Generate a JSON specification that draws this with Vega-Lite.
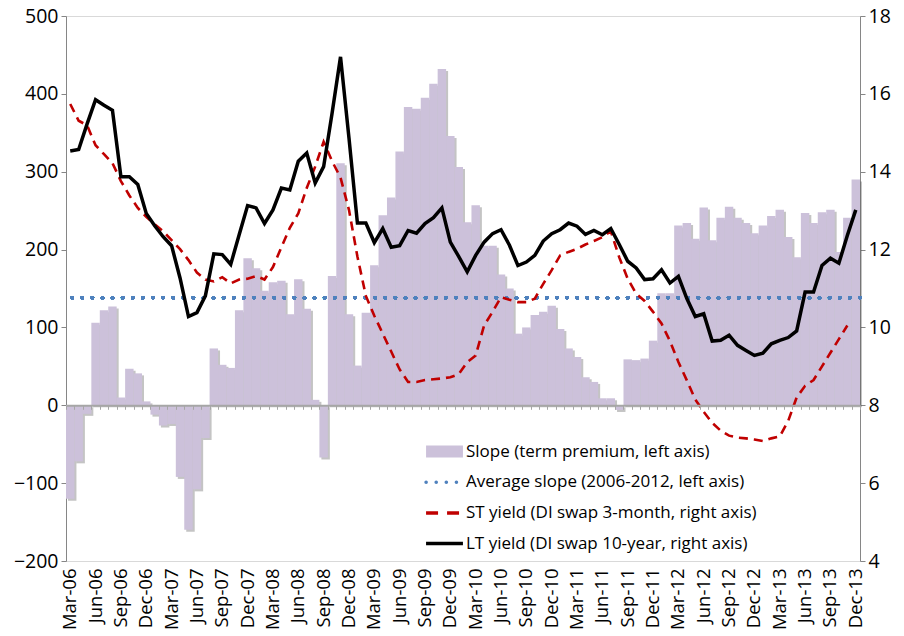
{
  "$schema": "https://vega.github.io/schema/vega-lite/v6.json",
  "width": 794,
  "height": 545,
  "autosize": {"type": "none"},
  "padding": {"left": 66, "top": 16, "right": 44, "bottom": 75},
  "background": "white",
  "data": {"values": [
    {"m":"Mar-06","slope":-120,"st":15.74,"lt":14.53},
    {"m":"Apr-06","slope":-72,"st":15.31,"lt":14.57},
    {"m":"May-06","slope":-11,"st":15.19,"lt":15.23},
    {"m":"Jun-06","slope":106,"st":14.68,"lt":15.85},
    {"m":"Jul-06","slope":122,"st":14.45,"lt":15.71},
    {"m":"Aug-06","slope":127,"st":14.22,"lt":15.58},
    {"m":"Sep-06","slope":10,"st":13.76,"lt":13.87},
    {"m":"Oct-06","slope":47,"st":13.39,"lt":13.87},
    {"m":"Nov-06","slope":41,"st":13.07,"lt":13.67},
    {"m":"Dec-06","slope":5,"st":12.84,"lt":12.93},
    {"m":"Jan-07","slope":-12,"st":12.65,"lt":12.61},
    {"m":"Feb-07","slope":-26,"st":12.47,"lt":12.33},
    {"m":"Mar-07","slope":-24,"st":12.24,"lt":12.10},
    {"m":"Apr-07","slope":-92,"st":12.01,"lt":11.27},
    {"m":"May-07","slope":-160,"st":11.73,"lt":10.28},
    {"m":"Jun-07","slope":-108,"st":11.41,"lt":10.38},
    {"m":"Jul-07","slope":-42,"st":11.23,"lt":10.81},
    {"m":"Aug-07","slope":73,"st":11.18,"lt":11.89},
    {"m":"Sep-07","slope":52,"st":11.29,"lt":11.87},
    {"m":"Oct-07","slope":48,"st":11.13,"lt":11.62},
    {"m":"Nov-07","slope":122,"st":11.23,"lt":12.38},
    {"m":"Dec-07","slope":189,"st":11.25,"lt":13.13},
    {"m":"Jan-08","slope":176,"st":11.32,"lt":13.07},
    {"m":"Feb-08","slope":147,"st":11.23,"lt":12.67},
    {"m":"Mar-08","slope":158,"st":11.55,"lt":13.02},
    {"m":"Apr-08","slope":160,"st":12.06,"lt":13.58},
    {"m":"May-08","slope":117,"st":12.56,"lt":13.53},
    {"m":"Jun-08","slope":162,"st":12.93,"lt":14.27},
    {"m":"Jul-08","slope":124,"st":13.58,"lt":14.48},
    {"m":"Aug-08","slope":7,"st":14.13,"lt":13.71},
    {"m":"Sep-08","slope":-67,"st":14.77,"lt":14.13},
    {"m":"Oct-08","slope":166,"st":14.27,"lt":15.5},
    {"m":"Nov-08","slope":311,"st":13.85,"lt":16.95},
    {"m":"Dec-08","slope":117,"st":13.02,"lt":14.87},
    {"m":"Jan-09","slope":51,"st":11.82,"lt":12.68},
    {"m":"Feb-09","slope":119,"st":10.81,"lt":12.68},
    {"m":"Mar-09","slope":180,"st":10.30,"lt":12.18},
    {"m":"Apr-09","slope":244,"st":9.84,"lt":12.54},
    {"m":"May-09","slope":267,"st":9.38,"lt":12.06},
    {"m":"Jun-09","slope":326,"st":8.92,"lt":12.10},
    {"m":"Jul-09","slope":383,"st":8.60,"lt":12.49},
    {"m":"Aug-09","slope":381,"st":8.60,"lt":12.42},
    {"m":"Sep-09","slope":395,"st":8.65,"lt":12.67},
    {"m":"Oct-09","slope":413,"st":8.67,"lt":12.82},
    {"m":"Nov-09","slope":432,"st":8.69,"lt":13.07},
    {"m":"Dec-09","slope":346,"st":8.72,"lt":12.19},
    {"m":"Jan-10","slope":306,"st":8.80,"lt":11.82},
    {"m":"Feb-10","slope":235,"st":9.11,"lt":11.43},
    {"m":"Mar-10","slope":257,"st":9.28,"lt":11.85},
    {"m":"Apr-10","slope":205,"st":10.05,"lt":12.19},
    {"m":"May-10","slope":205,"st":10.40,"lt":12.41},
    {"m":"Jun-10","slope":168,"st":10.78,"lt":12.51},
    {"m":"Jul-10","slope":150,"st":10.71,"lt":12.11},
    {"m":"Aug-10","slope":92,"st":10.65,"lt":11.59},
    {"m":"Sep-10","slope":100,"st":10.65,"lt":11.68},
    {"m":"Oct-10","slope":116,"st":10.74,"lt":11.85},
    {"m":"Nov-10","slope":120,"st":11.12,"lt":12.22},
    {"m":"Dec-10","slope":128,"st":11.47,"lt":12.41},
    {"m":"Jan-11","slope":98,"st":11.85,"lt":12.51},
    {"m":"Feb-11","slope":73,"st":11.94,"lt":12.68},
    {"m":"Mar-11","slope":62,"st":12.02,"lt":12.60},
    {"m":"Apr-11","slope":36,"st":12.13,"lt":12.39},
    {"m":"May-11","slope":30,"st":12.22,"lt":12.49},
    {"m":"Jun-11","slope":9,"st":12.32,"lt":12.38},
    {"m":"Jul-11","slope":9,"st":12.47,"lt":12.54},
    {"m":"Aug-11","slope":-6,"st":11.8,"lt":12.13},
    {"m":"Sep-11","slope":59,"st":11.25,"lt":11.70},
    {"m":"Oct-11","slope":58,"st":10.87,"lt":11.53},
    {"m":"Nov-11","slope":60,"st":10.68,"lt":11.23},
    {"m":"Dec-11","slope":83,"st":10.40,"lt":11.25},
    {"m":"Jan-12","slope":144,"st":10.10,"lt":11.48},
    {"m":"Feb-12","slope":144,"st":9.65,"lt":11.14},
    {"m":"Mar-12","slope":231,"st":9.11,"lt":11.31},
    {"m":"Apr-12","slope":234,"st":8.64,"lt":10.74},
    {"m":"May-12","slope":214,"st":8.15,"lt":10.28},
    {"m":"Jun-12","slope":254,"st":7.83,"lt":10.35},
    {"m":"Jul-12","slope":212,"st":7.55,"lt":9.65},
    {"m":"Aug-12","slope":241,"st":7.35,"lt":9.67},
    {"m":"Sep-12","slope":255,"st":7.22,"lt":9.80},
    {"m":"Oct-12","slope":241,"st":7.17,"lt":9.54},
    {"m":"Nov-12","slope":234,"st":7.15,"lt":9.41},
    {"m":"Dec-12","slope":221,"st":7.12,"lt":9.28},
    {"m":"Jan-13","slope":231,"st":7.08,"lt":9.34},
    {"m":"Feb-13","slope":243,"st":7.15,"lt":9.58},
    {"m":"Mar-13","slope":251,"st":7.2,"lt":9.67},
    {"m":"Apr-13","slope":216,"st":7.6,"lt":9.74},
    {"m":"May-13","slope":190,"st":8.2,"lt":9.91},
    {"m":"Jun-13","slope":247,"st":8.5,"lt":10.91},
    {"m":"Jul-13","slope":234,"st":8.65,"lt":10.91},
    {"m":"Aug-13","slope":248,"st":9.0,"lt":11.59},
    {"m":"Sep-13","slope":251,"st":9.35,"lt":11.78},
    {"m":"Oct-13","slope":197,"st":9.7,"lt":11.65},
    {"m":"Nov-13","slope":241,"st":10.05,"lt":12.36},
    {"m":"Dec-13","slope":290,"st":null,"lt":13.02}
  ]},
  "layer": [
    {
      "layer": [
        {
          "mark": {"type": "bar", "color": "#555555", "opacity": 0.35, "xOffset": 2, "yOffset": 2},
          "encoding": {
            "x": {"field": "m", "type": "ordinal", "sort": null, "scale": {"paddingInner": 0, "paddingOuter": 0},
              "axis": {"orient": "bottom", "title": null, "ticks": false, "domainColor": "#d9d9d9", "domainWidth": 1,
                "labelAngle": -90, "labelFont": "Open Sans", "labelFontSize": 18.5, "labelColor": "#000000", "labelPadding": 7,
                "labelOverlap": false, "labelBound": false, "labelFlush": false,
                "labelExpr": "indexof(['Mar','Jun','Sep','Dec'], slice(datum.value, 0, 3)) >= 0 ? datum.value : ''"}},
            "y": {"field": "slope", "type": "quantitative", "scale": {"domain": [-200, 500], "nice": false, "zero": false},
              "axis": {"orient": "left", "title": null, "grid": false, "values": [-200,-100,0,100,200,300,400,500],
                "domainColor": "#868686", "tickColor": "#868686", "tickSize": 5, "labelFont": "Open Sans", "labelFontSize": 19.5,
                "labelColor": "#000000", "labelPadding": 3, "labelOverlap": false, "labelBound": false, "labelFlush": false}}
          }
        },
        {
          "mark": {"type": "bar"},
          "encoding": {
            "x": {"field": "m", "type": "ordinal", "sort": null},
            "y": {"field": "slope", "type": "quantitative"},
            "color": {"datum": "Slope (term premium, left axis)", "type": "nominal",
              "scale": {"domain": ["Slope (term premium, left axis)", "Average slope (2006-2012, left axis)", "ST yield (DI swap 3-month, right axis)", "LT yield (DI swap 10-year, right axis)"],
                "range": ["#ccc1da", "#4f81bd", "#c00000", "#000000"]},
              "legend": {"orient": "none", "legendX": 370, "legendY": 427, "title": null, "padding": 0,
                "symbolType": "stroke", "symbolSize": 1360, "labelFont": "Open Sans", "labelFontSize": 17, "labelColor": "#000000",
                "labelOffset": 13, "rowPadding": 12.7, "labelLimit": 500, "symbolStrokeWidth": 3.5,
                "encode": {
                  "labels": {"update": {"fontSize": {"value": 17}, "font": {"value": "Open Sans"}}},
                  "symbols": {"update": {
                  "shape": {"signal": "datum.index == 0 ? 'M-1,-0.33H1V0.33H-1Z' : 'stroke'"},
                  "stroke": {"signal": "datum.index == 0 ? 'transparent' : scale('color', datum.value)"},
                  "fill": {"signal": "datum.index == 0 ? scale('color', datum.value) : 'transparent'"},
                  "opacity": {"value": 1},
                  "strokeWidth": {"signal": "datum.index == 0 ? 0 : 3.5"},
                  "strokeDash": {"signal": "datum.index == 1 ? [0.1, 10] : (datum.index == 2 ? [12, 9] : [1, 0])"},
                  "strokeCap": {"signal": "datum.index == 1 ? 'round' : 'butt'"}
                }}}}
            }
          }
        },
        {
          "mark": {"type": "rule", "strokeWidth": 3.5, "strokeDash": [0.1, 10], "strokeCap": "round"},
          "encoding": {
            "y": {"datum": 138, "type": "quantitative"},
            "color": {"datum": "Average slope (2006-2012, left axis)", "type": "nominal"}
          }
        }
      ]
    },
    {
      "layer": [
        {
          "mark": {"type": "line", "strokeWidth": 2.6, "strokeDash": [9, 6]},
          "encoding": {
            "x": {"field": "m", "type": "ordinal", "sort": null,
              "axis": {"orient": "bottom", "offset": -155.71, "title": null, "labels": false, "ticks": true, "tickBand": "extent",
                "tickSize": 4, "tickColor": "#a6a6a6", "domainColor": "#a6a6a6", "domainWidth": 2, "zindex": 1}},
            "y": {"field": "st", "type": "quantitative", "scale": {"domain": [4, 18], "nice": false, "zero": false},
              "axis": {"orient": "right", "title": null, "grid": false, "values": [4,6,8,10,12,14,16,18],
                "domainColor": "#868686", "tickColor": "#868686", "tickSize": 5, "labelFont": "Open Sans", "labelFontSize": 19.5,
                "labelColor": "#000000", "labelPadding": 3, "labelOverlap": false, "labelBound": false, "labelFlush": false}},
            "color": {"datum": "ST yield (DI swap 3-month, right axis)", "type": "nominal"}
          }
        },
        {
          "mark": {"type": "line", "strokeWidth": 3.5},
          "encoding": {
            "x": {"field": "m", "type": "ordinal", "sort": null},
            "y": {"field": "lt", "type": "quantitative"},
            "color": {"datum": "LT yield (DI swap 10-year, right axis)", "type": "nominal"}
          }
        }
      ]
    }
  ],
  "resolve": {"scale": {"y": "independent"}, "axis": {"x": "independent"}},
  "config": {
    "view": {"stroke": "#d9d9d9"},
    "font": "Open Sans",
    "legend": {"labelFontSize": 17}
  }
}
